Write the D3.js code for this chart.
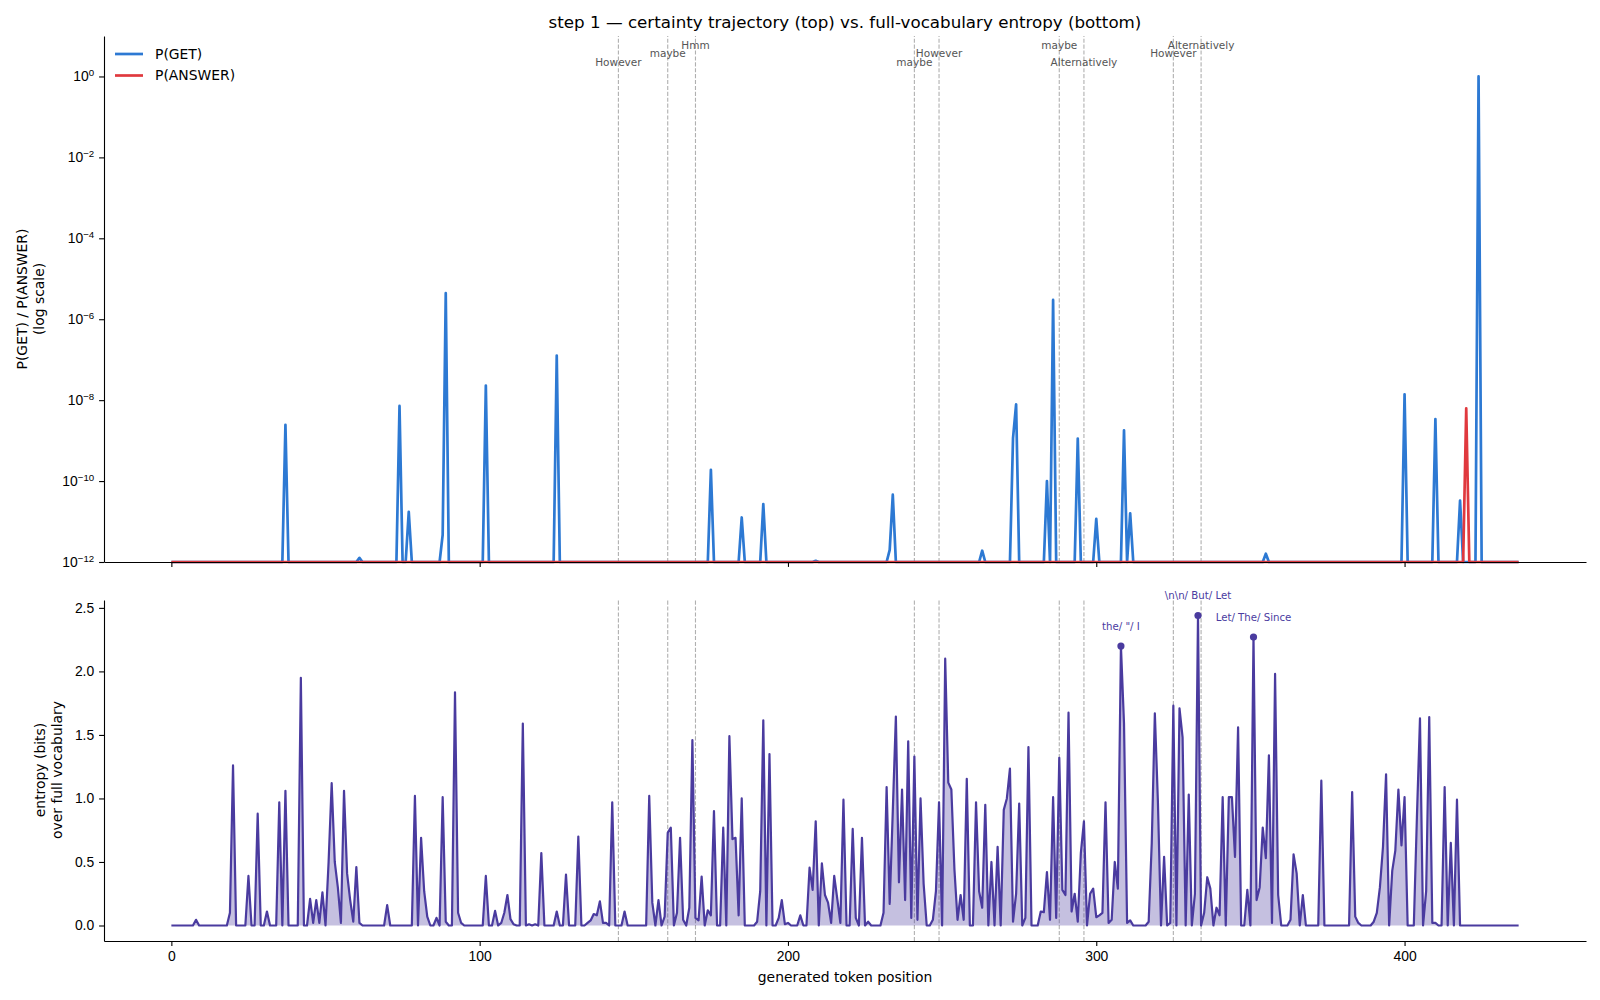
<!DOCTYPE html>
<html>
<head>
<meta charset="utf-8">
<script src="https://cdn.jsdelivr.net/npm/d3@7"></script>
<style>
  body { margin: 0; background: #fff; }
  svg { font-family: "DejaVu Sans", sans-serif; }
  .axis text { font-size: 13.9px; fill: #000; }
  .axis path, .axis line { stroke: #000; stroke-width: 1.1px; }
</style>
</head>
<body>
<script>
// token positions 0..437, entropy per token (bits), rows of 10
var entropy = [
  0,0,0,0,0,0,0,0,0.045,0,
  0,0,0,0,0,0,0,0,0,0.1,
  1.26,0,0,0,0,0.39,0,0,0.88,0,
  0,0.11,0,0,0,0.97,0,1.06,0,0,
  0,0,1.95,0,0,0.21,0.02,0.2,0.02,0.26,
  0,0.5,1.12,0.5,0.3,0.02,1.06,0.41,0.2,0.03,
  0.46,0.02,0,0,0,0,0,0,0,0,
  0.16,0,0,0,0,0,0,0,0,1.02,
  0,0.69,0.27,0.07,0,0,0.06,0,1.01,0.03,
  0,0,1.835,0.1,0.02,0,0,0,0,0,
  0,0,0.39,0,0,0.115,0,0.02,0.1,0.24,
  0.05,0.01,0,0,1.59,0,0.01,0,0.01,0,
  0.57,0,0,0,0,0.11,0,0,0.4,0,
  0,0,0.7,0,0,0.02,0.04,0.09,0.08,0.19,
  0.02,0.02,0,0.97,0,0,0,0.11,0,0,
  0,0,0,0,0,1.02,0.18,0,0.2,0,
  0.07,0.73,0.77,0,0.1,0.69,0.045,0,0.14,1.46,
  0.06,0.04,0.385,0,0.12,0.08,0.9,0,0,0.77,
  0,1.49,0.68,0.69,0.08,1.0,0,0,0,0,
  0.03,0.27,1.615,0,1.35,0,0,0.06,0.2,0.01,
  0.02,0,0,0,0.08,0,0,0.455,0.28,0.82,
  0,0.49,0.24,0.18,0.02,0.39,0.21,0.02,0.99,0,
  0,0.76,0.06,0,0.69,0,0.03,0,0,0,
  0,0.1,1.09,0.17,0.9,1.645,0.34,1.07,0.2,1.45,
  0.06,1.33,0.045,1.0,0.33,0,0,0.045,0.27,0.97,
  0,2.1,1.125,1.07,0.44,0.045,0.24,0.045,1.155,0,
  0,0.97,0.27,0.14,0.95,0,0.5,0,0.62,0,
  0.91,1.0,1.235,0.03,0.25,0.96,0,0.06,1.405,0,
  0,0,0.11,0.105,0.42,0.045,1.01,0.06,1.32,0.28,
  0.24,1.675,0.11,0.25,0.03,0.57,0.82,0,0.25,0.29,
  0.065,0.08,0.1,0.97,0.02,0.045,0.5,0.29,2.2,1.59,
  0.02,0.04,0,0,0,0,0,0.03,0.65,1.67,
  0.97,0,0.54,0,0.02,1.73,0,1.71,1.48,0,
  1.03,0,0.25,2.44,0,0.1,0.38,0.29,0,0.14,
  0.08,1.01,0,1.01,1.01,0.54,1.56,0,0,0.28,
  0,2.27,0.2,0.3,0.77,0.53,1.34,0.02,1.98,0.24,
  0,0,0,0.045,0.56,0.41,0,0.24,0,0,
  0,0,0,1.14,0,0,0,0,0,0,
  0,0,0,1.05,0.07,0.02,0,0,0,0,
  0.03,0.1,0.3,0.62,1.19,0,0.43,0.59,1.07,0.63,
  1.01,0,0,0,0.85,1.63,0,0.27,1.64,0.02,
  0.02,0,0,1.09,0,0.65,0,0.99,0,0,
  0,0,0,0,0,0,0,0,0,0,
  0,0,0,0,0,0,0,0
];

// P(GET) is below the axis floor except at these tokens
var getPos = [37, 61, 74, 77, 88, 89, 102, 125, 175, 185, 192, 209, 233, 234, 263,
              273, 274, 284, 286, 294, 300, 309, 311, 355, 400, 410, 418, 424];
var getVal = [2.45e-9, 1.26e-12, 7.2e-9, 1.74e-11, 4.7e-12, 4.4e-6, 2.3e-8, 1.26e-7, 1.9e-10,
              1.26e-11, 2.7e-11, 1.07e-12, 2e-12, 4.6e-11, 1.9e-12, 1.15e-9, 7.9e-9, 1e-10,
              3.0e-6, 1.12e-9, 1.17e-11, 1.8e-9, 1.6e-11, 1.6e-12, 1.4e-8, 3.4e-9, 3.3e-11, 1.0];
var answerPos = [420];
var answerVal = [6.3e-9];
var probFloor = 1e-12;

// hedge words marked with dashed lines
var hedgePos = [145, 161, 170, 241, 249, 288, 296, 325, 334];
var hedgeWord = ["However", "maybe", "Hmm", "maybe", "However", "maybe", "Alternatively", "However", "Alternatively"];

// top-3 candidates at the annotated entropy peaks
var peakPos = [308, 333, 351];
var peakLabel = ["the/ \"/ I", "\\n\\n/ But/ Let", "Let/ The/ Since"];

var logTicks = [1e-12, 1e-10, 1e-8, 1e-6, 1e-4, 1e-2, 1e0];
var entTicks = [0, 0.5, 1.0, 1.5, 2.0, 2.5];
var xTicks = [0, 100, 200, 300, 400];

var blue = "#2d79d3", red = "#e0393e", purple = "#4a3b9f";

var width = 1600, height = 1000;
var svg = d3.select("body").append("svg")
  .attr("width", width)
  .attr("height", height);

var n = entropy.length;
var tokens = d3.range(n);

var x = d3.scaleLinear().domain([-0.05 * (n - 1), 1.05 * (n - 1)]).range([104, 1586]);
var yTop = d3.scaleLog().domain([probFloor, 10]).range([562, 36]);
var yBot = d3.scaleLinear().domain([-0.122, 2.562]).range([941, 600]);

var getProb = tokens.map(function(i) {
  var k = getPos.indexOf(i);
  return k < 0 ? probFloor : getVal[k];
});
var answerProb = tokens.map(function(i) {
  var k = answerPos.indexOf(i);
  return k < 0 ? probFloor : answerVal[k];
});

// title
svg.append("text")
  .attr("x", (x.range()[0] + x.range()[1]) / 2)
  .attr("y", 28)
  .attr("text-anchor", "middle")
  .style("font-size", "16.7px")
  .text("step 1 \u2014 certainty trajectory (top) vs. full-vocabulary entropy (bottom)");

// dashed hedge markers in both panels
[yTop, yBot].forEach(function(ys) {
  svg.append("g").selectAll("line")
    .data(hedgePos)
    .enter().append("line")
      .attr("x1", function(d) { return x(d); })
      .attr("x2", function(d) { return x(d); })
      .attr("y1", ys.range()[0])
      .attr("y2", ys.range()[1])
      .attr("stroke", "#b0b0b0")
      .attr("stroke-width", 1.1)
      .attr("stroke-dasharray", "4.1,1.8");
});

var levels = [62, 53.5, 45];
svg.append("g").selectAll("text")
  .data(hedgePos)
  .enter().append("text")
    .attr("x", function(d) { return x(d); })
    .attr("y", function(d, i) { return levels[i % 3]; })
    .attr("text-anchor", "middle")
    .attr("dy", "0.35em")
    .style("font-size", "10.5px")
    .style("fill", "#555")
    .text(function(d, i) { return hedgeWord[i]; });

// top panel: probabilities on log scale
var line = d3.line()
  .x(function(d, i) { return x(i); })
  .y(function(d) { return yTop(Math.max(d, probFloor)); });

svg.append("path")
  .datum(getProb)
  .attr("fill", "none")
  .attr("stroke", blue)
  .attr("stroke-width", 2.7)
  .attr("stroke-linejoin", "round")
  .attr("d", line);

svg.append("path")
  .datum(answerProb)
  .attr("fill", "none")
  .attr("stroke", red)
  .attr("stroke-width", 2.7)
  .attr("stroke-linejoin", "round")
  .attr("d", line);

var yAxisTop = svg.append("g")
  .attr("class", "axis")
  .attr("transform", "translate(104,0)")
  .call(d3.axisLeft(yTop).tickValues(logTicks).tickSize(4.9).tickSizeOuter(0).tickPadding(4.9).tickFormat(""));

yAxisTop.selectAll(".tick text").each(function(d) {
  var t = d3.select(this);
  var e = Math.round(Math.log10(d));
  t.append("tspan").text("10");
  t.append("tspan")
    .attr("dy", "-0.55em")
    .style("font-size", "9.7px")
    .text(e < 0 ? "\u2212" + (-e) : e);
});

svg.append("g")
  .attr("class", "axis")
  .attr("transform", "translate(0,562)")
  .call(d3.axisBottom(x).tickValues(xTicks).tickSize(4.9).tickSizeOuter(0).tickFormat(""));

// legend
var legend = svg.append("g");
[["P(GET)", blue, 54], ["P(ANSWER)", red, 75.5]].forEach(function(l) {
  legend.append("line")
    .attr("x1", 115).attr("x2", 143)
    .attr("y1", l[2]).attr("y2", l[2])
    .attr("stroke", l[1])
    .attr("stroke-width", 2.7);
  legend.append("text")
    .attr("x", 155).attr("y", l[2])
    .attr("dy", "0.35em")
    .style("font-size", "13.9px")
    .text(l[0]);
});

// y label top
svg.append("text")
  .attr("transform", "translate(27,299) rotate(-90)")
  .attr("text-anchor", "middle")
  .style("font-size", "13.9px")
  .selectAll("tspan")
  .data(["P(GET) / P(ANSWER)", "(log scale)"])
  .enter().append("tspan")
    .attr("x", 0)
    .attr("dy", function(d, i) { return i ? "1.2em" : 0; })
    .text(function(d) { return d; });

// bottom panel: entropy
var area = d3.area()
  .x(function(d, i) { return x(i); })
  .y0(yBot(0))
  .y1(function(d) { return yBot(d); });

svg.append("path")
  .datum(entropy)
  .attr("fill", purple)
  .attr("fill-opacity", 0.32)
  .attr("d", area);

svg.append("path")
  .datum(entropy)
  .attr("fill", "none")
  .attr("stroke", purple)
  .attr("stroke-width", 2.2)
  .attr("stroke-linejoin", "round")
  .attr("d", d3.line()
    .x(function(d, i) { return x(i); })
    .y(function(d) { return yBot(d); }));

svg.append("g").selectAll("circle")
  .data(peakPos)
  .enter().append("circle")
    .attr("cx", function(d) { return x(d); })
    .attr("cy", function(d) { return yBot(entropy[d]); })
    .attr("r", 3.6)
    .attr("fill", purple);

svg.append("g").selectAll("text")
  .data(peakPos)
  .enter().append("text")
    .attr("x", function(d) { return x(d); })
    .attr("y", function(d) { return yBot(entropy[d]) - 20; })
    .attr("dy", "0.35em")
    .attr("text-anchor", "middle")
    .style("font-size", "10.2px")
    .style("fill", purple)
    .text(function(d, i) { return peakLabel[i]; });

svg.append("g")
  .attr("class", "axis")
  .attr("transform", "translate(104,0)")
  .call(d3.axisLeft(yBot).tickValues(entTicks).tickSize(4.9).tickSizeOuter(0).tickPadding(4.9)
    .tickFormat(d3.format(".1f")));

svg.append("g")
  .attr("class", "axis")
  .attr("transform", "translate(0,941)")
  .call(d3.axisBottom(x).tickValues(xTicks).tickSize(4.9).tickSizeOuter(0).tickPadding(4.9)
    .tickFormat(d3.format("d")));

svg.append("text")
  .attr("x", (x.range()[0] + x.range()[1]) / 2)
  .attr("y", 982)
  .attr("text-anchor", "middle")
  .style("font-size", "13.9px")
  .text("generated token position");

svg.append("text")
  .attr("transform", "translate(45,770) rotate(-90)")
  .attr("text-anchor", "middle")
  .style("font-size", "13.9px")
  .selectAll("tspan")
  .data(["entropy (bits)", "over full vocabulary"])
  .enter().append("tspan")
    .attr("x", 0)
    .attr("dy", function(d, i) { return i ? "1.2em" : 0; })
    .text(function(d) { return d; });
</script>
</body>
</html>
